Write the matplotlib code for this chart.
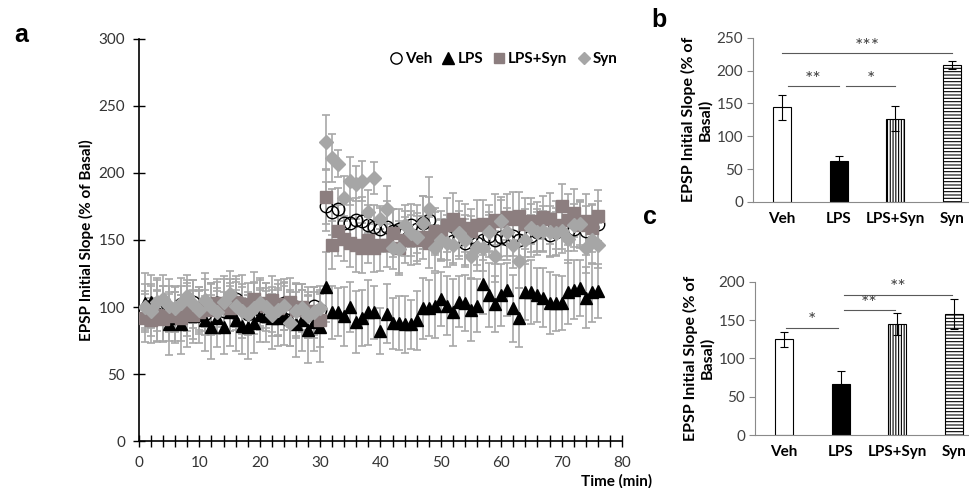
import matplotlib
matplotlib.use('Agg')
import matplotlib.pyplot as plt
from matplotlib.ticker import MultipleLocator

plt.rcParams['font.family'] = ['Lato', 'DejaVu Sans']
plt.rcParams['hatch.linewidth'] = 0.8

# time course (panel a), one point per minute
minutes = list(range(1, 77))

veh_mean = [98, 101, 97, 103, 99, 96, 102, 100, 104, 98, 95, 101, 103, 97, 100,
            106, 99, 95, 102, 98, 101, 97, 96, 103, 99, 100, 98, 95, 101, 98,
            175, 171, 173, 163, 163, 165, 164, 161, 160, 158, 160, 157, 158, 155, 161,
            158, 163, 165, 155, 150, 152, 149, 151, 148, 152, 148, 150, 153, 150, 152,
            151, 153, 150, 155, 153, 156, 158, 154, 156, 160, 157, 158, 163, 157, 160, 162]
veh_err = [14, 16, 15, 13, 17, 15, 14, 18, 16, 15, 13, 17, 16, 14, 18,
           15, 16, 14, 17, 15, 13, 16, 18, 15, 14, 17, 15, 16, 14, 15,
           18, 17, 16, 15, 17, 16, 18, 15, 16, 17, 19, 16, 15, 17, 16,
           18, 20, 17, 16, 15, 17, 16, 15, 18, 16, 17, 15, 16, 18, 17,
           16, 15, 17, 18, 16, 15, 17, 16, 18, 17, 15, 16, 17, 18, 16, 17]

lps_mean = [103, 104, 98, 95, 87, 92, 87, 95, 93, 94, 90, 85, 92, 85, 96,
            90, 86, 85, 88, 94, 93, 92, 92, 94, 91, 87, 90, 83, 89, 85,
            115, 96, 96, 93, 100, 89, 92, 96, 96, 82, 95, 88, 88, 87, 87,
            90, 99, 99, 101, 106, 101, 96, 104, 103, 98, 101, 117, 109, 102, 109,
            113, 99, 92, 111, 111, 109, 107, 103, 103, 103, 111, 113, 114, 107, 111, 112]
lps_err = [22, 20, 24, 21, 23, 19, 22, 25, 20, 21, 23, 24, 22, 20, 25,
           23, 21, 24, 22, 20, 19, 23, 21, 22, 20, 24, 23, 25, 22, 26,
           26, 20, 18, 22, 19, 23, 21, 24, 20, 17, 22, 19, 20, 21, 18,
           22, 23, 21, 24, 20, 22, 25, 19, 21, 23, 20, 22, 24, 21, 23,
           20, 25, 22, 21, 24, 20, 22, 23, 21, 20, 24, 22, 21, 23, 22, 20]

lpssyn_mean = [92, 90, 94, 91, 93, 95, 92, 97, 94, 96, 100, 98, 103, 101, 99,
               104, 102, 100, 106, 103, 101, 105, 99, 102, 104, 98, 100, 96, 97, 90,
               182, 146, 157, 151, 148, 146, 144, 150, 144, 146, 146, 155, 144, 150, 150,
               150, 152, 148, 157, 154, 161, 166, 162, 159, 157, 161, 162, 159, 165, 164,
               167, 166, 168, 162, 164, 160, 167, 166, 161, 175, 165, 170, 161, 164, 159, 168]
lpssyn_err = [18, 17, 19, 16, 18, 20, 17, 19, 18, 16, 21, 19, 18, 20, 17,
              19, 22, 18, 20, 19, 17, 18, 21, 19, 18, 20, 17, 19, 18, 20,
              20, 18, 19, 17, 18, 20, 19, 17, 18, 19, 16, 18, 20, 17, 19,
              18, 16, 19, 17, 18, 20, 19, 17, 18, 16, 19, 18, 17, 19, 18,
              17, 20, 18, 19, 17, 18, 16, 19, 18, 17, 19, 18, 17, 20, 18, 19]

syn_mean = [100, 97, 104, 106, 101, 99, 103, 108, 102, 98, 105, 100, 96, 104, 110,
            101, 97, 95, 99, 103, 100, 94, 98, 101, 88, 97, 99, 93, 96, 99,
            223, 211, 207, 181, 194, 192, 194, 171, 196, 166, 173, 144, 143, 161, 155,
            152, 163, 173, 144, 150, 148, 146, 155, 150, 138, 145, 144, 156, 138, 164,
            156, 146, 134, 150, 159, 156, 157, 156, 155, 157, 151, 161, 162, 144, 150, 146]
syn_err = [17, 19, 16, 18, 20, 17, 19, 16, 18, 17, 20, 18, 16, 19, 17,
           18, 20, 16, 19, 17, 18, 16, 19, 18, 17, 20, 18, 16, 19, 17,
           20, 18, 10, 17, 18, 13, 15, 16, 12, 8, 17, 16, 18, 15, 17,
           18, 20, 24, 17, 16, 18, 15, 17, 19, 16, 18, 17, 15, 19, 16,
           18, 17, 20, 16, 18, 17, 15, 19, 16, 17, 18, 16, 17, 19, 18, 17]

# bar panels b and c
groups = ['Veh', 'LPS', 'LPS+Syn', 'Syn']
b_mean = [144, 63, 127, 208]
b_err = [19, 7, 19, 6]
c_mean = [125, 67, 145, 158]
c_err = [10, 16, 14, 20]

fig = plt.figure(figsize=(9.7, 4.88), dpi=100)

# ---- panel a ----
ax = fig.add_axes([0.1433, 0.0963, 0.4979, 0.8238])

series = [
    ('Veh', veh_mean, veh_err, dict(marker='o', mfc='none', mec='black', ms=9, mew=1.0)),
    ('LPS', lps_mean, lps_err, dict(marker='^', mfc='black', mec='black', ms=9)),
    ('LPS+Syn', lpssyn_mean, lpssyn_err, dict(marker='s', mfc='#8c7e7f', mec='#8c7e7f', ms=8)),
    ('Syn', syn_mean, syn_err, dict(marker='D', mfc='#a6a6a6', mec='#a6a6a6', ms=7)),
]
for name, mean, err, st in series:
    ax.errorbar(minutes, mean, yerr=err, fmt='none', ecolor='#a8a8a8',
                elinewidth=1.2, capsize=3, capthick=1.2, zorder=1)
for name, mean, err, st in series:
    ax.plot(minutes, mean, linestyle='none', label=name, zorder=3, **st)

ax.set_xlim(0, 80)
ax.set_ylim(0, 300)
ax.xaxis.set_major_locator(MultipleLocator(10))
ax.xaxis.set_minor_locator(MultipleLocator(2))
ax.yaxis.set_major_locator(MultipleLocator(50))
for s in ['top', 'right']:
    ax.spines[s].set_visible(False)
for s in ['left', 'bottom']:
    ax.spines[s].set_linewidth(1.2)
ax.tick_params(which='both', direction='inout', length=8, width=1.0,
               labelsize=11, labelcolor='#333333')
ax.tick_params(axis='y', pad=6)
ax.tick_params(axis='x', pad=7)
ax.set_ylabel('EPSP Initial Slope (% of Basal)', fontsize=11, fontweight='bold',
              labelpad=3)
fig.text(652 / 970, 1 - 481 / 488, 'Time (min)', fontsize=11, fontweight='bold',
         ha='right', va='center')

leg = ax.legend(loc='upper right', bbox_to_anchor=(1.01, 0.99), ncol=4, frameon=False,
                handlelength=0.7, handletextpad=0.25, columnspacing=0.7, numpoints=1,
                markerscale=0.9, borderaxespad=0.2,
                prop={'weight': 'bold', 'size': 11})


def bar_panel(axb, means, errs, ymax, sig):
    x = list(range(len(groups)))
    looks = [dict(color='white'), dict(color='black'),
             dict(color='white', hatch='||||||'), dict(color='white', hatch='-----')]
    for xi, m, lk in zip(x, means, looks):
        axb.bar(xi, m, width=0.32, edgecolor='black', linewidth=0.8, zorder=2, **lk)
    axb.errorbar(x, means, yerr=errs, fmt='none', ecolor='black', elinewidth=0.8,
                 capsize=3, capthick=0.8, zorder=3)
    for x0, x1, h, stars in sig:
        axb.plot([x0, x1], [h, h], color='#595959', lw=0.8)
        axb.text((x0 + x1) / 2, h - ymax * 0.01, stars, ha='center', va='bottom',
                 fontsize=14, color='#404040')
    axb.set_xlim(-0.51, 3.28)
    axb.set_ylim(0, ymax)
    axb.yaxis.set_major_locator(MultipleLocator(50))
    for s in ['top', 'right']:
        axb.spines[s].set_visible(False)
    for s in ['left', 'bottom']:
        axb.spines[s].set_color('#8a8a8a')
    axb.tick_params(axis='y', direction='out', length=4, color='#8a8a8a',
                    labelsize=11, labelcolor='#404040', pad=3)
    axb.set_xticks(x)
    axb.set_xticklabels(groups, fontsize=11, fontweight='bold')
    axb.tick_params(axis='x', length=0, pad=7)
    axb.set_ylabel('EPSP Initial Slope (% of\nBasal)', fontsize=11.5, fontweight='bold',
                   linespacing=1.15, labelpad=3)


# ---- panel b ----
axb = fig.add_axes([0.7763, 0.5861, 0.2216, 0.3366])
bar_panel(axb, b_mean, b_err, 250,
          [(0, 3, 226, '***'), (0.1, 1.0, 176, '**'), (1.13, 2.0, 176, '*')])

# ---- panel c ----
axc = fig.add_axes([0.7784, 0.1086, 0.2216, 0.3141])
bar_panel(axc, c_mean, c_err, 200,
          [(0.04, 0.95, 140, '*'), (1.06, 1.96, 163, '**'), (1.06, 2.96, 183, '**')])

# panel letters
for lx, ly, letter in [(14, 35, 'a'), (651, 20, 'b'), (643, 217, 'c')]:
    fig.text(lx / 970, 1 - ly / 488, letter, fontsize=18, fontweight='bold',
             family='Liberation Sans', va='center', ha='left')

fig.savefig('out.png', dpi=100)
